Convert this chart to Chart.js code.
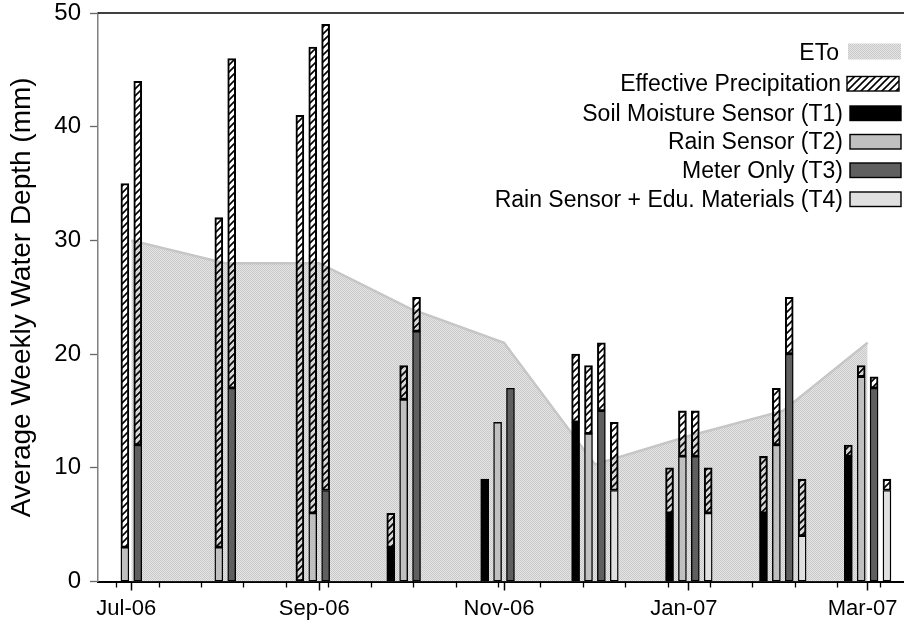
<!DOCTYPE html>
<html lang="en">
<head>
<meta charset="UTF-8">
<title>Average Weekly Water Depth</title>
<script src="https://cdn.jsdelivr.net/npm/chart.js"></script>
<style>
  html, body { margin: 0; padding: 0; background: #fff; overflow: hidden; }
</style>
</head>
<body>
<canvas id="grafico" width="904" height="627"></canvas>
<script>
// one bar group per month, drawn on the first day of the month
const months = ['2006-07-01', '2006-08-01', '2006-09-01', '2006-10-01', '2006-11-01',
                '2006-12-01', '2007-01-01', '2007-02-01', '2007-03-01'];
const eto = [30, 28, 28, 24, 21, 10.3, 12.8, 15, 21];
const effectivePrecip = [32, 29, 41, 3, 0, 6, 4, 5, 1];
const t1 = [null, null, 0, 3, 9, 14, 6, 6, 11];
const t2 = [3, 3, 6, 16, 14, 13, 11, 12, 18];
const t3 = [12, 17, 8, 22, 17, 15, 11, 20, 17];
const t4 = [null, null, null, null, null, 8, 6, 4, 8];

// axis ticks
const xTickDates = ['2006-07-01', '2006-09-01', '2006-11-01', '2007-01-01', '2007-03-01'];
const xTickLabels = ['Jul-06', 'Sep-06', 'Nov-06', 'Jan-07', 'Mar-07'];
const minorTickStart = '2006-06-26'; // small ticks every two weeks
const yTicks = [0, 10, 20, 30, 40, 50];

const FONT = '"Liberation Sans", Arial, Helvetica, sans-serif';
const DAY_MS = 86400000;
const START = Date.parse('2006-07-01');
const toDay = s => (Date.parse(s) - START) / DAY_MS;
const X_MIN = toDay('2006-06-20');
const X_MAX = toDay('2007-03-13');
const SLOT = 4.25; // days between the bars of one group
const slotX = (i, k) => toDay(months[i]) + (k - 1.5) * SLOT;

const canvas = document.getElementById('grafico');
const ctx = canvas.getContext('2d');

function makeHatch() {
  const c = document.createElement('canvas');
  c.width = 7; c.height = 7;
  const g = c.getContext('2d');
  g.strokeStyle = '#000';
  g.lineWidth = 1.6;
  g.beginPath();
  g.moveTo(-1, 8); g.lineTo(8, -1);
  g.moveTo(-1, 1); g.lineTo(1, -1);
  g.moveTo(6, 8); g.lineTo(8, 6);
  g.stroke();
  return ctx.createPattern(c, 'repeat');
}

function makeStipple() {
  const c = document.createElement('canvas');
  c.width = 2; c.height = 2;
  const g = c.getContext('2d');
  g.fillStyle = '#e6e6e6';
  g.fillRect(0, 0, 2, 2);
  g.fillStyle = '#c8c8c8';
  g.fillRect(0, 0, 1, 1);
  g.fillRect(1, 1, 1, 1);
  return ctx.createPattern(c, 'repeat');
}

const hatch = makeHatch();
const stipple = makeStipple();

const treatments = [
  { label: 'Soil Moisture Sensor (T1)', values: t1, color: '#000000' },
  { label: 'Rain Sensor (T2)', values: t2, color: '#c0c0c0' },
  { label: 'Meter Only (T3)', values: t3, color: '#5f5f5f' },
  { label: 'Rain Sensor + Edu. Materials (T4)', values: t4, color: '#e0e0e0' }
];

const barStyle = {
  type: 'bar',
  grouped: false,
  barThickness: 8,
  borderColor: '#000',
  borderWidth: 1.4,
  borderSkipped: false,
  order: 0
};

const datasets = treatments.map((t, k) => Object.assign({}, barStyle, {
  label: t.label,
  backgroundColor: t.color,
  data: months.map((m, i) => t.values[i] == null ? null : { x: slotX(i, k), y: t.values[i] })
             .filter(p => p)
}));

const precipPoints = [];
months.forEach((m, i) => {
  treatments.forEach((t, k) => {
    if (t.values[i] != null && effectivePrecip[i] > 0) {
      precipPoints.push({ x: slotX(i, k), y: effectivePrecip[i] });
    }
  });
});
datasets.push(Object.assign({}, barStyle, {
  label: 'Effective Precipitation',
  backgroundColor: hatch,
  data: precipPoints
}));

datasets.push({
  type: 'line',
  label: 'ETo',
  data: months.map((m, i) => ({ x: toDay(m), y: eto[i] })),
  fill: 'origin',
  backgroundColor: stipple,
  borderColor: '#c6c6c6',
  borderWidth: 2.5,
  pointRadius: 0,
  tension: 0,
  order: 10
});

const legendRows = [
  { text: 'ETo', fill: stipple, border: false, right: 839, base: 60, box: [848, 43.5, 53, 16] },
  { text: 'Effective Precipitation', fill: hatch, border: true, right: 841, base: 91, box: [847, 76.5, 52, 14.5] },
  { text: treatments[0].label, fill: treatments[0].color, border: true, right: 843, base: 120.5, box: [850, 106, 51, 14.5] },
  { text: treatments[1].label, fill: treatments[1].color, border: true, right: 843, base: 149, box: [850, 134.5, 51, 14.5] },
  { text: treatments[2].label, fill: treatments[2].color, border: true, right: 843, base: 177.5, box: [850, 163, 51, 14.5] },
  { text: treatments[3].label, fill: treatments[3].color, border: true, right: 843, base: 206.5, box: [850, 192, 51, 14.5] }
];

// top frame line, two-week minor ticks and the legend
const frameAndLegend = {
  id: 'frameAndLegend',
  afterDraw(chart) {
    const c = chart.ctx;
    const a = chart.chartArea;
    const xs = chart.scales.x;
    c.save();
    c.strokeStyle = '#000';
    c.lineWidth = 1.5;
    c.beginPath();
    c.moveTo(a.left, a.top);
    c.lineTo(a.right, a.top);
    c.stroke();

    c.lineWidth = 1.3;
    c.beginPath();
    for (let d = toDay(minorTickStart); d <= X_MAX; d += 14) {
      const px = Math.round(xs.getPixelForValue(d)) + 0.5;
      c.moveTo(px, a.bottom);
      c.lineTo(px, a.bottom + 6);
    }
    c.stroke();

    c.font = '23px ' + FONT;
    c.textAlign = 'right';
    c.textBaseline = 'alphabetic';
    legendRows.forEach(r => {
      c.fillStyle = '#000';
      c.fillText(r.text, r.right, r.base);
      const [bx, by, bw, bh] = r.box;
      c.fillStyle = r.fill;
      c.fillRect(bx, by, bw, bh);
      if (r.border) {
        c.lineWidth = 1.4;
        c.strokeStyle = '#000';
        c.strokeRect(bx, by, bw, bh);
      }
    });
    c.restore();
  }
};

new Chart(ctx, {
  data: { datasets: datasets },
  options: {
    responsive: false,
    animation: false,
    devicePixelRatio: 1,
    layout: { padding: { top: 13, right: 0, bottom: 0, left: 0 } },
    plugins: { legend: { display: false }, tooltip: { enabled: false } },
    scales: {
      x: {
        type: 'linear',
        offset: false,
        min: X_MIN,
        max: X_MAX,
        afterBuildTicks: s => { s.ticks = xTickDates.map(d => ({ value: toDay(d) })); },
        afterFit: s => { s.height = 45.5; s.paddingLeft = 0; s.paddingRight = 0; },
        ticks: {
          callback: (v, i) => xTickLabels[i],
          autoSkip: false,
          maxRotation: 0,
          padding: 5,
          labelOffset: -5,
          color: '#000',
          font: { family: FONT, size: 22 }
        },
        grid: { offset: false, drawOnChartArea: false, drawTicks: true, tickLength: 9, tickColor: '#000', tickWidth: 1.5 },
        border: { display: true, color: '#000', width: 2 }
      },
      y: {
        stacked: true,
        min: 0,
        max: 50,
        afterBuildTicks: s => { s.ticks = yTicks.map(v => ({ value: v })); },
        afterFit: s => { s.width = 98; s.paddingTop = 0; s.paddingBottom = 0; },
        ticks: { color: '#000', padding: 9, font: { family: FONT, size: 24, lineHeight: 1 } },
        grid: { drawOnChartArea: false, drawTicks: true, tickLength: 8, tickColor: '#666', tickWidth: 1.3 },
        border: { display: true, color: '#808080', width: 1.5 },
        title: {
          display: true,
          text: 'Average Weekly Water Depth (mm)',
          color: '#000',
          font: { family: FONT, size: 28, lineHeight: 1.2 },
          padding: { top: 5, bottom: 0 }
        }
      }
    }
  },
  plugins: [frameAndLegend]
});
</script>
</body>
</html>
